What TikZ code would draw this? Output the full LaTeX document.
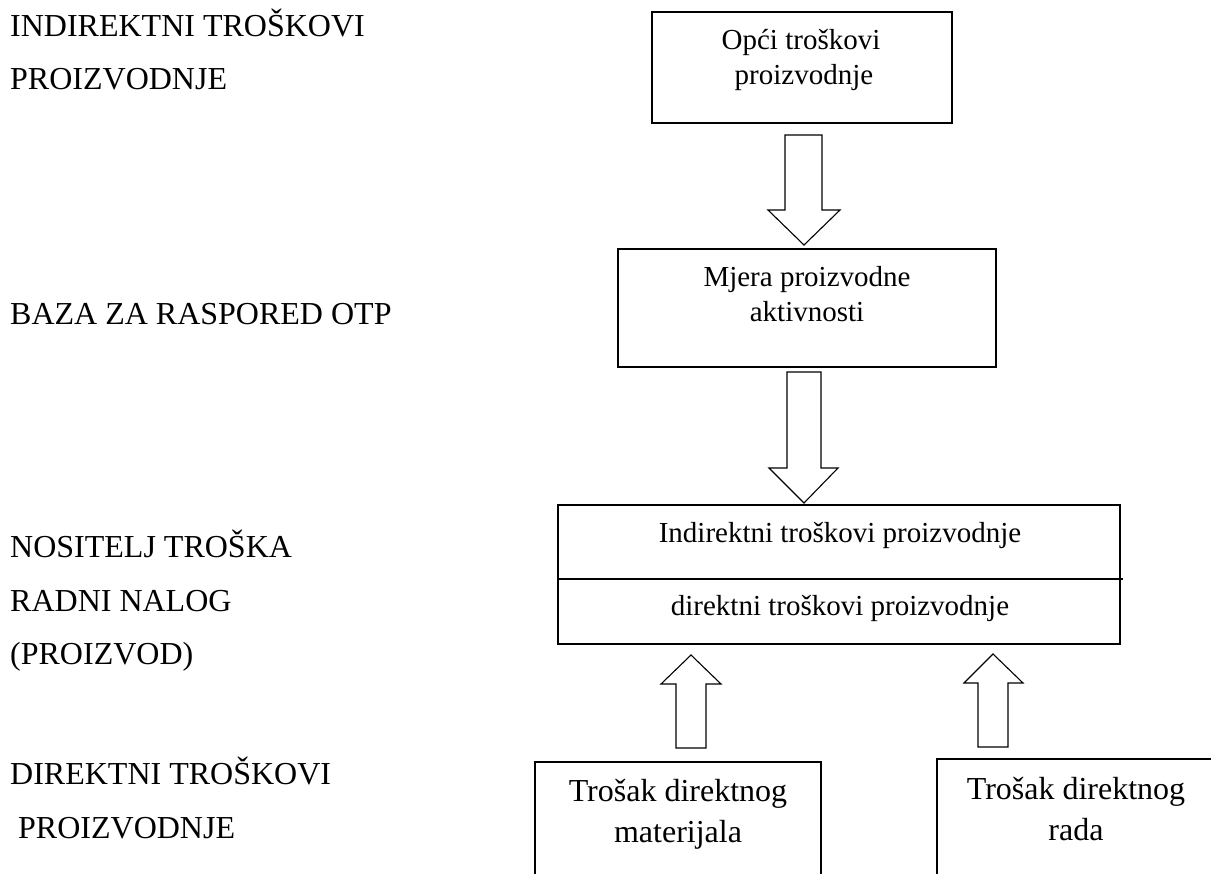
\documentclass[tikz,border=0pt]{standalone}
\usepackage{fontspec}
\setmainfont{Liberation Serif}
\usetikzlibrary{calc}
\tikzset{
  boxline/.style={draw=black, line width=1.3pt},
  barrow/.style={draw=black, fill=white, line width=1.1pt, line join=miter},
  lbl/.style={anchor=base west, inner sep=0pt, font=\fontsize{32}{38}\selectfont},
  btxt/.style={anchor=base, inner sep=0pt, font=\fontsize{29}{35}\selectfont},
  ctxt/.style={anchor=base, inner sep=0pt, font=\fontsize{32}{38}\selectfont},
}
\begin{document}
\begin{tikzpicture}[x=1pt, y=-1pt]
\clip (0,0) rectangle (1211,874);
\fill[white] (0,0) rectangle (1211,874);

% left labels
\node[lbl] (l1) at (10,37) {INDIREKTNI TROŠKOVI};
\node[lbl] (l2) at (10,90) {PROIZVODNJE};
\node[lbl] (l3) at (10,325) {BAZA ZA RASPORED OTP};
\node[lbl] (l4) at (10,558) {NOSITELJ TROŠKA};
\node[lbl] (l5) at (10,611) {RADNI NALOG};
\node[lbl] (l6) at (10,664) {(PROIZVOD)};
\node[lbl] (l7) at (10,784) {DIREKTNI TROŠKOVI};
\node[lbl] (l8) at (18,838) {PROIZVODNJE};

% boxes
\draw[boxline] (652,12) rectangle (952,123);
\draw[boxline] (618,249) rectangle (996,367);
\draw[boxline] (558,505) rectangle (1120,644);
\draw[boxline] (558,579) -- (1123,579);
\draw[boxline] (535,880) -- (535,762) -- (821,762) -- (821,880);
\draw[boxline] (937,880) -- (937,759) -- (1220,759);

% box texts
\node[btxt] (t1a) at (801,50) {Opći troškovi};
\node[btxt] (t1b) at (804,85) {proizvodnje};
\node[btxt] (t2a) at (807,287) {Mjera proizvodne};
\node[btxt] (t2b) at (807,322) {aktivnosti};
\node[btxt] (t3a) at (840,543) {Indirektni troškovi proizvodnje};
\node[btxt] (t3b) at (840,615) {direktni troškovi proizvodnje};
\node[ctxt] (t4a) at (678,801) {Trošak direktnog};
\node[ctxt] (t4b) at (678,842) {materijala};
\node[ctxt] (t5a) at (1076,799) {Trošak direktnog};
\node[ctxt] (t5b) at (1076,840) {rada};

% block arrows
\draw[barrow] (785,135) -- (822,135) -- (822,210) -- (840,210) -- (804,245)
  -- (768,210) -- (785,210) -- cycle;
\draw[barrow] (787,372) -- (821,372) -- (821,468) -- (838,468) -- (804,503)
  -- (769,468) -- (787,468) -- cycle;
\draw[barrow] (676,748) -- (706,748) -- (706,684) -- (721,684) -- (691,655)
  -- (661,684) -- (676,684) -- cycle;
\draw[barrow] (978,747) -- (1008,747) -- (1008,683) -- (1023,683) -- (993,654)
  -- (964,683) -- (978,683) -- cycle;
\end{tikzpicture}
\end{document}
